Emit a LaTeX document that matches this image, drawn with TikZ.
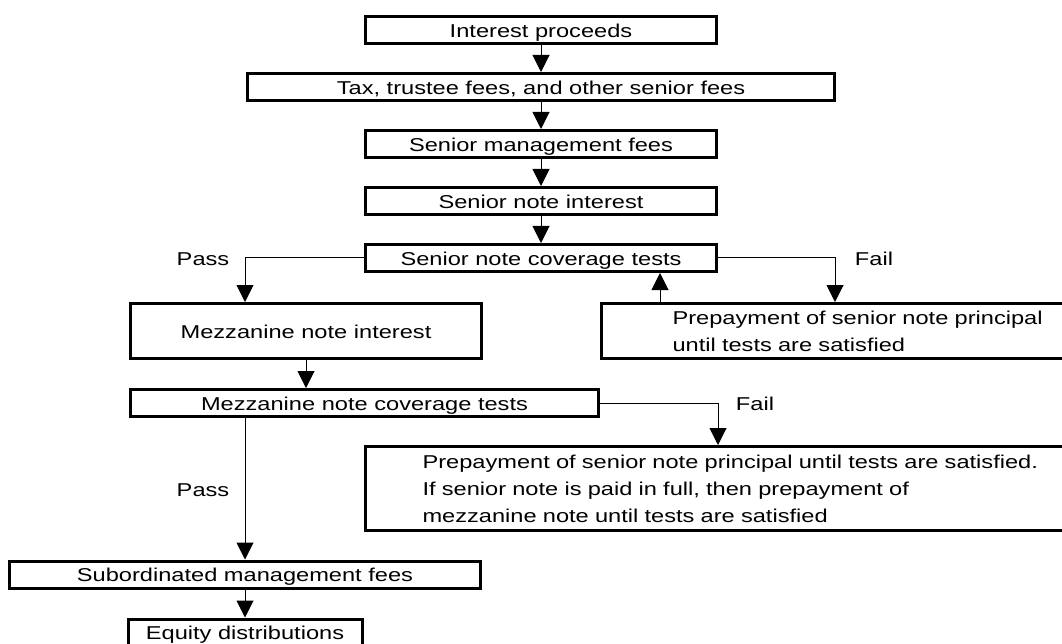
\documentclass[tikz,border=0pt]{standalone}
\usepackage{fontspec}
\setmainfont[FakeStretch=1.27]{Liberation Sans}
\usetikzlibrary{arrows.meta, positioning}

\begin{document}
\begin{tikzpicture}[
    x=1pt, y=-1pt,
    node distance=27pt,
    box/.style={
        rectangle,
        draw=black,
        line width=3pt,
        minimum height=27pt,
        inner sep=0pt,
        font=\fontsize{18.6pt}{27pt}\selectfont
    },
    onebox/.style={box, text height=17.6pt, text depth=3pt},
    textbox/.style={box, align=left, text width=#1},
    tag/.style={font=\fontsize{18.6pt}{27pt}\selectfont},
    arrow/.style={-{Triangle[width=17pt,length=17pt]}, line width=1pt}
]
    \clip (0,0) rectangle (1062,644);
    \useasboundingbox (0,0) rectangle (1062,644);

    % Senior column
    \node[onebox, minimum width=351pt] (interest) at (541,30) {Interest proceeds};
    \node[onebox, minimum width=587pt, below=of interest] (fees)
        {Tax, trustee fees, and other senior fees};
    \node[onebox, minimum width=351pt, below=of fees] (smgmt) {Senior management fees};
    \node[onebox, minimum width=351pt, below=of smgmt] (snote) {Senior note interest};
    \node[onebox, minimum width=351pt, below=of snote] (scov) {Senior note coverage tests};

    % Mezzanine and prepayment
    \node[onebox, minimum width=351pt, minimum height=55pt] (mezzint) at (306,331)
        {Mezzanine note interest};
    \node[textbox=467pt, minimum height=55pt] (prepay1) at (835,331)
        {\hspace*{71pt}Prepayment of senior note principal\\
         \hspace*{71pt}until tests are satisfied};
    \node[onebox, minimum width=468pt] (mezzcov) at (364.5,403)
        {Mezzanine note coverage tests};
    \node[textbox=705pt, minimum height=84pt] (prepay2) at (718,488.5)
        {\hspace*{57pt}Prepayment of senior note principal until tests are satisfied.\\
         \hspace*{57pt}If senior note is paid in full, then prepayment of\\
         \hspace*{57pt}mezzanine note until tests are satisfied};

    % Junior column
    \node[onebox, minimum width=471pt] (sub) at (245,574.5) {Subordinated management fees};
    \node[onebox, minimum width=234pt, below=28pt of sub] (equity) {Equity distributions};

    % Labels
    \node[tag] (pass1) at (203,259) {Pass};
    \node[tag] (fail1) at (874,259) {Fail};
    \node[tag] (fail2) at (755,404) {Fail};
    \node[tag] (pass2) at (203,490) {Pass};

    % Arrows
    \draw[arrow] (interest) -- (fees);
    \draw[arrow] (fees) -- (smgmt);
    \draw[arrow] (smgmt) -- (snote);
    \draw[arrow] (snote) -- (scov);
    \draw[arrow] (scov.west) -| (sub |- mezzint.north);
    \draw[arrow] (scov.east) -| (prepay1.north);
    \draw[arrow] ([xshift=60pt]prepay1.north west) -- ([xshift=60pt]prepay1.north west |- scov.south);
    \draw[arrow] (mezzint.south) -- (mezzint.south |- mezzcov.north);
    \draw[arrow] (mezzcov.east) -| (prepay2.north);
    \draw[arrow] (sub |- mezzcov.south) -- (sub.north);
    \draw[arrow] (sub) -- (equity);

\end{tikzpicture}
\end{document}
